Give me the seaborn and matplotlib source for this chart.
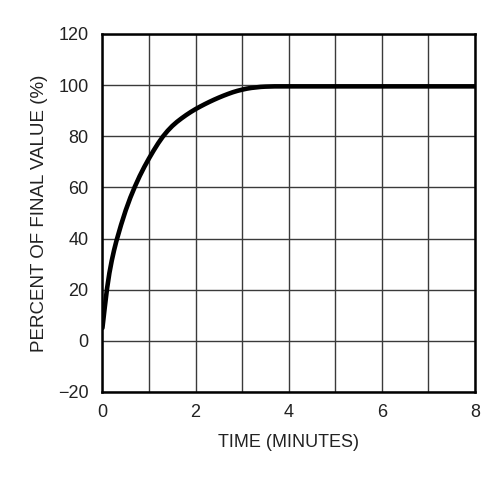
import numpy as np
import pandas as pd
import matplotlib
matplotlib.use("Agg")
import matplotlib.pyplot as plt
import seaborn as sns

# values
time_min = [0, 0.05, 0.1, 0.15, 0.2, 0.25, 0.3, 0.4, 0.5, 0.6, 0.7, 0.8, 0.9, 1.0,
            1.1, 1.2, 1.3, 1.4, 1.5, 1.6, 1.7, 1.8, 1.9, 2.0, 2.1, 2.2, 2.3, 2.4,
            2.5, 2.6, 2.7, 2.8, 2.9, 3.0, 3.1, 3.2, 3.3, 3.4, 3.5, 3.7, 4.0, 5, 6, 7, 8]
percent = [5, 13, 20.5, 26.5, 31.3, 35.4, 39, 45.3, 51, 56, 60.4, 64.4, 68.0, 71.3,
           74.4, 77.3, 79.9, 82.1, 84.0, 85.6, 87.0, 88.3, 89.5, 90.6, 91.6, 92.55, 93.45, 94.3,
           95.1, 95.85, 96.55, 97.2, 97.75, 98.2, 98.6, 98.9, 99.1, 99.3, 99.4, 99.5, 99.5,
           99.5, 99.5, 99.5, 99.5]

df = pd.DataFrame({"t": time_min, "p": percent})

sns.set_style("white")
plt.rcParams['font.family'] = ['Liberation Sans', 'DejaVu Sans']

fig = plt.figure(figsize=(5.02, 4.78), dpi=100)
ax = fig.add_axes([0.204, 0.180, 0.742, 0.749])

sns.lineplot(data=df, x="t", y="p", ax=ax, color="black", linewidth=3.3)

ax.set_xlim(0, 8)
ax.set_ylim(-20, 120)
ax.set_xticks(np.arange(0, 9, 1), minor=True)
ax.set_xticks([0, 2, 4, 6, 8])
ax.set_yticks(np.arange(-20, 121, 20))
ax.set_yticklabels(["\u221220" if v < 0 else str(v) for v in range(-20, 121, 20)])
ax.grid(True, which="both", color="#3a3a3a", linewidth=1.0)
ax.tick_params(which="both", length=0, labelsize=13, colors="#222222")
ax.tick_params(axis="x", pad=9)
ax.tick_params(axis="y", pad=10)
for s in ax.spines.values():
    s.set_color("black")
    s.set_linewidth(1.8)

ax.set_xlabel("TIME (MINUTES)", fontsize=13, color="#222222", labelpad=9)
ax.set_ylabel("PERCENT OF FINAL VALUE (%)", fontsize=13.5, color="#222222", labelpad=7)

fig.savefig("out.png", dpi=100)
